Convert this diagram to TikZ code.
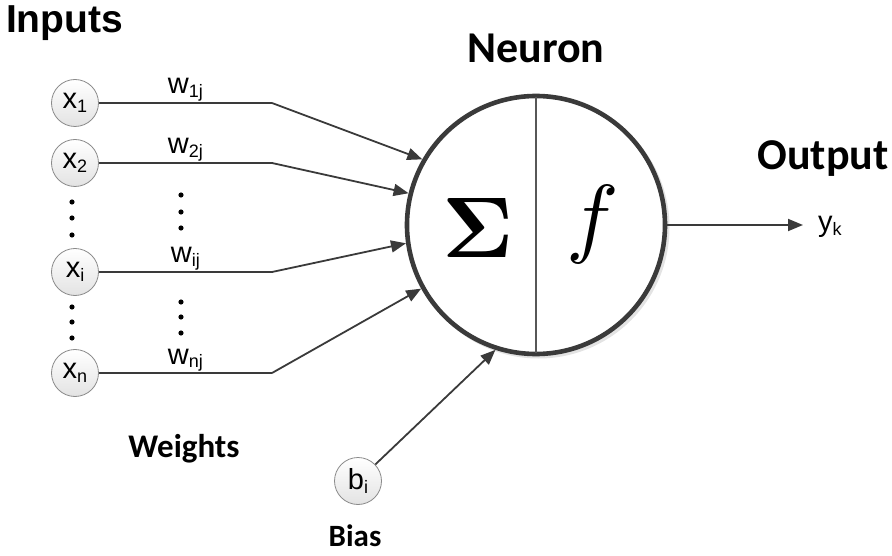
\documentclass[tikz,border=0pt]{standalone}
\usepackage[no-math]{fontspec}
\setmainfont{Liberation Sans}
\newfontfamily\calib{Carlito}
\usetikzlibrary{arrows.meta}
\definecolor{darkg}{HTML}{3A3A3A}
\definecolor{circg}{HTML}{8A8A8A}
\newcommand\lowsub[1]{\raisebox{-3.5pt}{\fontsize{18}{18}\selectfont #1}}
\begin{document}
\begin{tikzpicture}[x=1pt,y=-1pt,
  inp/.style={circle, minimum size=47pt, inner sep=0pt, draw=circg, line width=0.8pt,
    top color=white, bottom color=gray!22, font=\fontsize{29}{29}\selectfont},
  conn/.style={draw=darkg, line width=1.8pt},
  arr/.style={conn, -{Triangle[length=15pt,width=12pt]}},
  wlab/.style={midway, anchor=base, yshift=9pt, inner sep=0pt, font=\fontsize{29}{29}\selectfont},
  title/.style={anchor=base, inner sep=0pt, font=\calib\bfseries\fontsize{44}{44}\selectfont},
  subtitle/.style={anchor=base, inner sep=0pt, font=\calib\bfseries\fontsize{33}{33}\selectfont},
  dot/.style={fill=black}]
\useasboundingbox (0,0) rectangle (892,556);

% titles
\node[anchor=base, inner sep=0pt, font=\bfseries\fontsize{39}{39}\selectfont] (tin) at (64.5,33) {Inputs};
\node[title] (tneu) at (536,63) {Neuron};
\node[title] (tout) at (823,170) {Output};
\node[subtitle] (twei) at (184,457) {Weights};
\node[anchor=base, inner sep=0pt, font=\calib\bfseries\fontsize{31}{31}\selectfont] (tbias) at (355,546) {Bias};

% neuron
\draw[gray!22, line width=4pt] (538.5,227.5) circle[radius=129];
\node[circle, draw=darkg, line width=4.6pt, minimum size=258pt, inner sep=0pt, fill=white] (N) at (536,225) {};
\draw[darkg!85, line width=2pt, shorten >=3pt, shorten <=3pt] (N.north) -- (N.south);
\node[inner sep=0pt, font=\fontsize{10}{10}\selectfont, scale=8.6] (sig) at (478,228) {$\mathbf{\Sigma}$};
\node[inner sep=0pt, font=\fontsize{10}{10}\selectfont, scale=8.8] (fn) at (593,225) {$f$};

% inputs
\node[inp] (x1) at (75,103) {x\lowsub{1}};
\node[inp] (x2) at (75,163) {x\lowsub{2}};
\node[inp] (xi) at (75,272) {x\lowsub{i}};
\node[inp] (xn) at (75,373) {x\lowsub{n}};
\node[inp] (b) at (358,481) {b\lowsub{i}};

\coordinate (k1) at (272,103);
\coordinate (k2) at (272,163);
\coordinate (ki) at (272,272);
\coordinate (kn) at (272,373);

\draw[conn] (x1) -- node[wlab] (w1) {w\lowsub{1j}} (k1);
\draw[conn] (x2) -- node[wlab] (w2) {w\lowsub{2j}} (k2);
\draw[conn] (xi) -- node[wlab] (wi) {w\lowsub{ij}} (ki);
\draw[conn] (xn) -- node[wlab] (wn) {w\lowsub{nj}} (kn);

\draw[arr] (k1) -- (N.150);
\draw[arr] (k2) -- (N.166);
\draw[arr] (ki) -- (N.188);
\draw[arr] (kn) -- (N.209);
\draw[arr] (b) -- (N.252);

% output
\node[anchor=base west, inner sep=0pt, font=\fontsize{29}{29}\selectfont] (yk) at (818,232) {y\lowsub{k}};
\draw[arr, shorten >=15pt] (N.east) -- (N.east -| yk.west);

% dots
\foreach \yy in {202,218,235,307,322,338} \fill[dot] (72,\yy) circle[radius=2.6];
\foreach \yy in {195,212,228,302,317,333} \fill[dot] (181,\yy) circle[radius=2.6];
\end{tikzpicture}
\end{document}
